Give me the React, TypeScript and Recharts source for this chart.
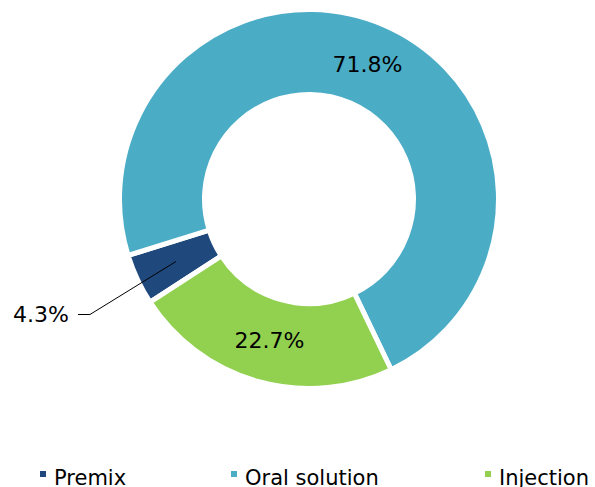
import React from "react";
import { PieChart, Pie, Cell, Legend } from "recharts";

const categories = ["Premix", "Oral solution", "Injection"];
const shares = [4.3, 71.8, 22.7];
const colors = ["#1F497D", "#4BACC6", "#92D050"];

const data = categories.map((name, i) => ({ name, value: shares[i] }));

const FONT = "'DejaVu Sans', Verdana, sans-serif";
const RAD = Math.PI / 180;

const renderLabel = (props: any) => {
  const { cx, cy, midAngle, innerRadius, outerRadius, value } = props;
  const r = (innerRadius + outerRadius) / 2;
  const x = cx + r * Math.cos(-midAngle * RAD);
  const y = cy + r * Math.sin(-midAngle * RAD);
  const text = `${value.toFixed(1)}%`;
  if (value < 10) {
    const ex = x - 86;
    const ey = y + 53;
    const lx = ex - 12;
    return (
      <g>
        <polyline
          points={`${x},${y} ${ex},${ey} ${lx},${ey}`}
          fill="none"
          stroke="#000"
          strokeWidth={1}
        />
        <text
          x={lx - 9}
          y={ey}
          textAnchor="end"
          dominantBaseline="central"
          fontFamily={FONT}
          fontSize={22}
          fill="#000"
        >
          {text}
        </text>
      </g>
    );
  }
  return (
    <text
      x={x}
      y={y}
      textAnchor="middle"
      dominantBaseline="central"
      fontFamily={FONT}
      fontSize={22}
      fill="#000"
    >
      {text}
    </text>
  );
};

const legendX = [40, 231, 485];

const renderLegend = () => (
  <svg width={595} height={30} style={{ display: "block" }}>
    {categories.map((c, i) => (
      <g key={c}>
        <rect x={legendX[i]} y={13} width={6} height={6} fill={colors[i]} />
        <text
          x={legendX[i] + 14}
          y={27}
          fontFamily={FONT}
          fontSize={21}
          fill="#000"
        >
          {c}
        </text>
      </g>
    ))}
  </svg>
);

export default function App() {
  return (
    <div style={{ position: "absolute", left: 0, top: 0, width: 595, height: 487, background: "#fff", overflow: "hidden" }}>
      <PieChart width={595} height={487} margin={{ top: 0, right: 0, bottom: 0, left: 0 }}>
        <Pie
          data={data}
          dataKey="value"
          nameKey="name"
          cx={309}
          cy={199}
          innerRadius={104.5}
          outerRadius={189.5}
          startAngle={213}
          endAngle={-147}
          stroke="#fff"
          strokeWidth={5}
          label={renderLabel}
          labelLine={false}
          isAnimationActive={false}
        >
          {data.map((d, i) => (
            <Cell key={d.name} fill={colors[i]} />
          ))}
        </Pie>
        <Legend
          content={renderLegend}
          wrapperStyle={{ position: "absolute", left: 0, top: 458, width: 595, height: 30 }}
        />
      </PieChart>
    </div>
  );
}
